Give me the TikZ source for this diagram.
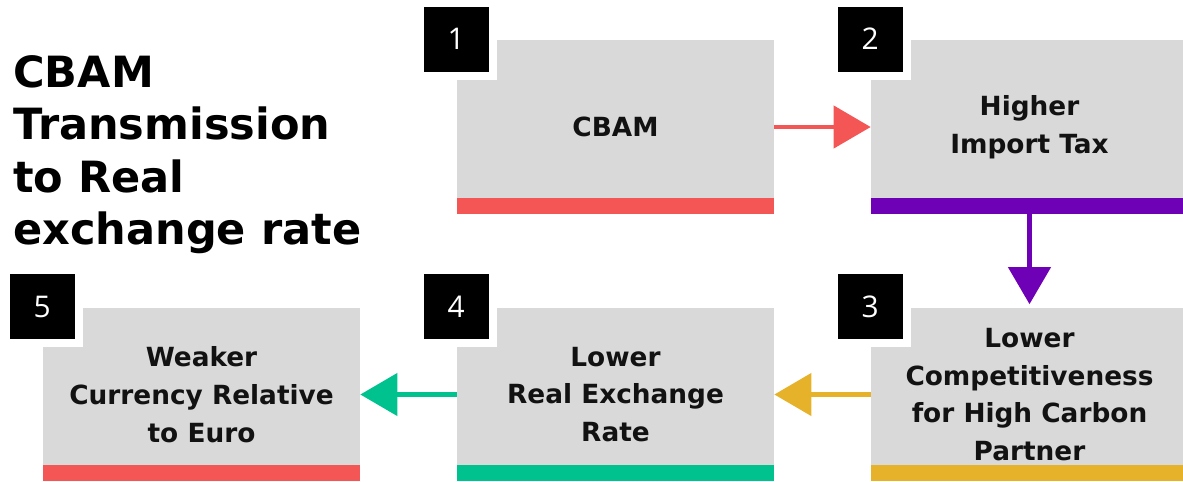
\documentclass[tikz,border=0pt]{standalone}
\usepackage{fontspec}
\setmainfont{DejaVu Sans}
\newfontfamily\numfont{Open Sans}
\usepackage{tikz}
\usetikzlibrary{arrows.meta,positioning}
\definecolor{boxgray}{HTML}{D9D9D9}
\definecolor{red}{HTML}{F45656}
\definecolor{purple}{HTML}{6E00B6}
\definecolor{yellow}{HTML}{E6B22A}
\definecolor{green}{HTML}{00C28E}

\tikzset{
  stage/.style={fill=boxgray,minimum width=6.34cm,minimum height=3.48cm,inner sep=0pt,
    align=center,font=\bfseries\fontsize{15}{21.5}\selectfont,text=black!93,
    path picture={\fill[#1] (path picture bounding box.south west) rectangle
      ([yshift=0.32cm]path picture bounding box.south east);}},
  numtag/.style={fill=black,draw=white,line width=0.16cm,minimum size=1.46cm,inner sep=0pt,
    text=white,font=\numfont\fontsize{17}{17}\selectfont},
  link/.style={#1,line width=2.5pt,-{Triangle[length=0.74cm,width=0.84cm]}}
}

\begin{document}
\begin{tikzpicture}[x=0.02cm,y=-0.02cm]
  \clip (0,0) rectangle (1183,481);
  \node[anchor=north west,align=left,inner sep=0pt,
        font=\bfseries\fontsize{24.5}{29.8}\selectfont] (title) at (13,55)
    {CBAM\\Transmission\\to Real\\exchange rate};
  % stages
  \node[stage=red]    (b1) at (615.5,127)   {CBAM};
  \node[stage=purple] (b2) at (1029.5,127)  {Higher\\Import Tax};
  \node[stage=yellow] (b3) at (1029.5,394.5){Lower\\Competitiveness\\for High Carbon\\Partner};
  \node[stage=green]  (b4) at (615.5,394.5) {Lower\\Real Exchange\\Rate};
  \node[stage=red]    (b5) at (201.5,394.5) {Weaker\\Currency Relative\\to Euro};
  % number tags
  \foreach \b/\n in {b1/1,b2/2,b3/3,b4/4,b5/5}
    \node[numtag] (n\n) at ([xshift=-0.01cm,yshift=0.01cm]\b.north west) {\n};
  % links
  \draw[link=red]    (b1.east)  -- (b2.west);
  \draw[link=purple] (b2.south) -- ([yshift=0.06cm]b3.north);
  \draw[link=yellow] (b3.west)  -- (b4.east);
  \draw[link=green]  (b4.west)  -- (b5.east);
\end{tikzpicture}
\end{document}
